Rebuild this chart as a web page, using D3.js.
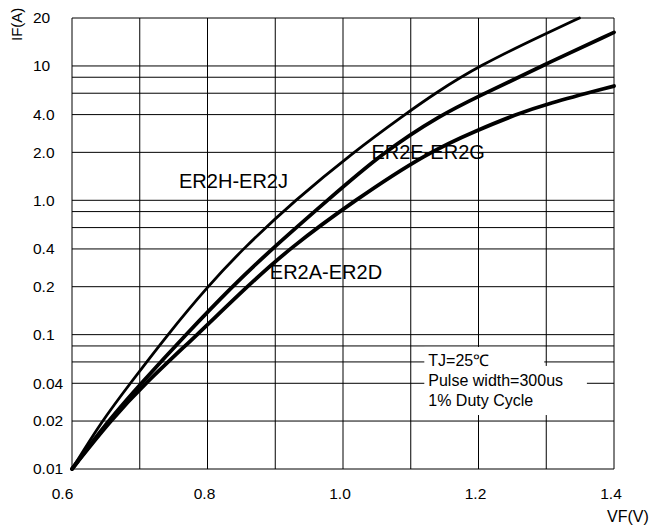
<!DOCTYPE html>
<html lang="en">
<head>
<meta charset="UTF-8">
<title>Typical Forward Characteristics</title>
<script src="https://d3js.org/d3.v7.min.js"></script>
<style>
    body { margin: 0; background: #fff; }
    text { font-family: "Liberation Sans", Arial, sans-serif; fill: #000; }
    .grid line { stroke: #000; stroke-width: 1; }
    .curve { fill: none; stroke: #000; stroke-linecap: round; stroke-linejoin: round; }
</style>
</head>
<body>
<script>
// Forward voltage VF (V) against forward current IF (A)
const vfHJ = [0.6, 0.644, 0.686, 0.741, 0.80, 0.852, 0.929, 1.015, 1.091, 1.136, 1.2, 1.3, 1.349];
const ifHJ = [0.01, 0.02, 0.04, 0.1, 0.2, 0.4, 1.0, 2.0, 4.0, 6.0, 10, 16.8, 20];

const vfEG = [0.6, 0.653, 0.702, 0.768, 0.836, 0.895, 0.977, 1.059, 1.145, 1.2, 1.293, 1.4];
const ifEG = [0.01, 0.02, 0.04, 0.1, 0.2, 0.4, 1.0, 2.0, 4.0, 5.7, 10, 17];

const vfAD = [0.6, 0.656, 0.708, 0.785, 0.858, 0.92, 1.017, 1.125, 1.2, 1.255, 1.3, 1.4];
const ifAD = [0.01, 0.02, 0.04, 0.1, 0.2, 0.4, 1.0, 2.0, 3.2, 4.0, 5.0, 6.9];

// axis rulings and labels
const xGrid = [0.6, 0.7, 0.8, 0.9, 1.0, 1.1, 1.2, 1.3, 1.4];
const xTicks = [0.6, 0.8, 1.0, 1.2, 1.4];
const yGrid = [0.01, 0.02, 0.04, 0.06, 0.08, 0.1, 0.2, 0.4, 0.6, 0.8, 1, 2, 4, 6, 8, 10, 20];
const yTicks = [0.01, 0.02, 0.04, 0.1, 0.2, 0.4, 1, 2, 4, 10, 20];
const yTickLabels = ["0.01", "0.02", "0.04", "0.1", "0.2", "0.4", "1.0", "2.0", "4.0", "10", "20"];
const noteLines = ["TJ=25\u2103", "Pulse width=300us", "1% Duty Cycle"];

const width = 653;
const height = 527;
const margin = { top: 18, right: 39, bottom: 58, left: 72 };

const svg = d3.select("body").append("svg")
    .attr("width", width)
    .attr("height", height);

const x = d3.scaleLinear()
    .domain([0.6, 1.4])
    .range([margin.left, width - margin.right]);

// the printed log paper is not a pure log scale: the 2-4-6-8 rulings
// sit a bit higher than true log, so map the mantissa piecewise
const mantissa = d3.scaleLinear()
    .domain([1, 2, 4, 6, 8, 10])
    .range([0, 0.357, 0.638, 0.797, 0.916, 1]);
const decadePos = v => {
    const d = Math.floor(Math.log10(v) + 1e-9);
    return d + mantissa(v / Math.pow(10, d));
};
const yLin = d3.scaleLinear()
    .domain([decadePos(0.01), decadePos(20)])
    .range([height - margin.bottom, margin.top]);
const y = v => yLin(decadePos(v));

// grid
const grid = svg.append("g").attr("class", "grid");
grid.selectAll(".v")
    .data(xGrid)
    .join("line")
    .attr("x1", d => x(d)).attr("x2", d => x(d))
    .attr("y1", y(20)).attr("y2", y(0.01));
grid.selectAll(".h")
    .data(yGrid)
    .join("line")
    .attr("x1", x(0.6)).attr("x2", x(1.4))
    .attr("y1", d => y(d)).attr("y2", d => y(d));

// white patches behind the test-condition note
svg.append("rect")
    .attr("x", x(1.12))
    .attr("y", y(0.08) + 1)
    .attr("width", x(1.3) - 2 - x(1.12))
    .attr("height", y(0.06) + 4 - (y(0.08) + 1))
    .attr("fill", "#fff");
svg.append("rect")
    .attr("x", x(1.12))
    .attr("y", y(0.06) + 4)
    .attr("width", x(1.36) - x(1.12))
    .attr("height", y(0.02) - 6 - (y(0.06) + 4))
    .attr("fill", "#fff");

svg.append("g")
    .selectAll("text")
    .data(noteLines)
    .join("text")
    .attr("x", x(1.12) + 4)
    .attr("y", (d, i) => y(0.06) + 4 + i * 20)
    .attr("font-size", 16)
    .text(d => d);

// curves
const series = [
    { vf: vfHJ, amps: ifHJ, w: 2.8 },
    { vf: vfEG, amps: ifEG, w: 3.8 },
    { vf: vfAD, amps: ifAD, w: 3.8 }
];
const line = d3.line()
    .x(d => x(d[0]))
    .y(d => y(d[1]))
    .curve(d3.curveBasis);

svg.append("g")
    .selectAll("path")
    .data(series)
    .join("path")
    .attr("class", "curve")
    .attr("stroke-width", d => d.w)
    .attr("d", d => line(d3.zip(d.vf, d.amps)));

// curve names
const curveNames = [
    { name: "ER2H-ER2J", at: [0.758, 1.26] },
    { name: "ER2E-ER2G", at: [1.042, 1.86] },
    { name: "ER2A-ER2D", at: [0.892, 0.241] }
];
svg.append("g")
    .selectAll("text")
    .data(curveNames)
    .join("text")
    .attr("x", d => x(d.at[0]))
    .attr("y", d => y(d.at[1]))
    .attr("font-size", 20)
    .text(d => d.name);

// tick labels
svg.append("g")
    .selectAll("text")
    .data(xTicks)
    .join("text")
    .attr("x", (d, i) => x(d) + (i === 0 ? -9.5 : -3))
    .attr("y", 499)
    .attr("text-anchor", "middle")
    .attr("font-size", 15.5)
    .text(d3.format(".1f"));

svg.append("g")
    .selectAll("text")
    .data(yTicks)
    .join("text")
    .attr("x", 33)
    .attr("y", d => y(d))
    .attr("dy", "0.35em")
    .attr("font-size", 15.5)
    .text((d, i) => yTickLabels[i]);

// axis titles
svg.append("text")
    .attr("transform", "translate(22,41) rotate(-90)")
    .attr("font-size", 15)
    .text("IF(A)");

svg.append("text")
    .attr("x", 607)
    .attr("y", 522)
    .attr("font-size", 16)
    .text("VF(V)");
</script>
</body>
</html>
